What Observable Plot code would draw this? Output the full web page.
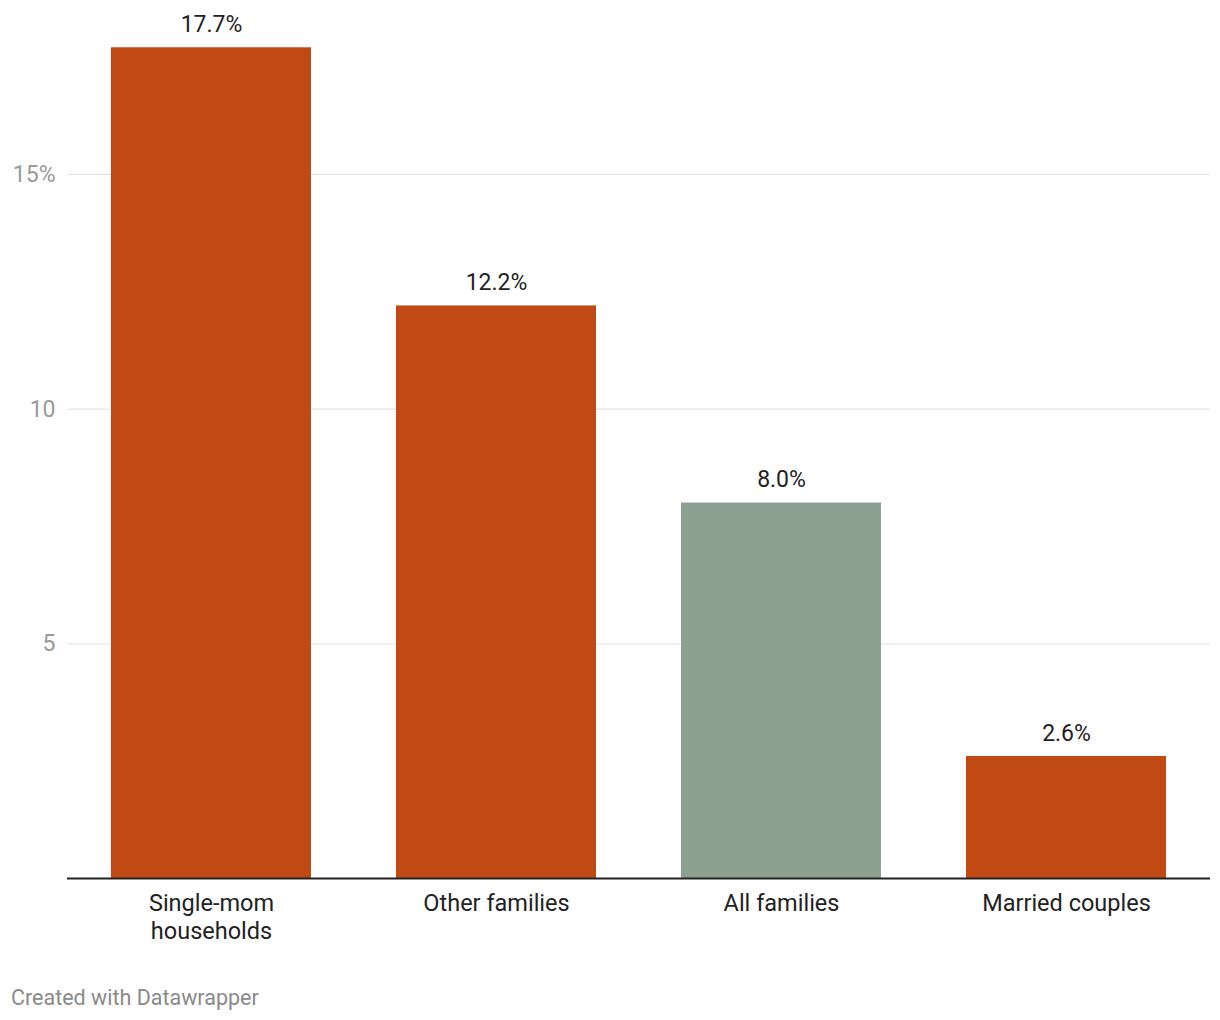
<!DOCTYPE html>
<html>
<head>
<meta charset="utf-8">
<script src="https://cdn.jsdelivr.net/npm/d3@7"></script>
<script src="https://cdn.jsdelivr.net/npm/@observablehq/plot@0.6"></script>
<style>
  body { margin: 0; background: #fff; font-family: Roboto, sans-serif; }
  #chart svg { display: block; }
  .caption { position: absolute; left: 11px; top: 985px; font-family: Roboto, sans-serif; font-size: 21.5px; color: #8a8a8a; }
</style>
</head>
<body>
<div id="chart"></div>
<div class="caption">Created with Datawrapper</div>
<script>
const categories = ["Single-mom\nhouseholds", "Other families", "All families", "Married couples"];
const values = [17.7, 12.2, 8.0, 2.6];
const highlight = [false, false, true, false];
const yTicks = [5, 10, 15];

const data = categories.map((c, i) => ({ category: c, value: values[i], hl: highlight[i] }));

const chart = Plot.plot({
  width: 1220,
  height: 975,
  marginLeft: 67,
  marginRight: 10,
  marginTop: 0,
  marginBottom: 97,
  style: { fontFamily: "Roboto, sans-serif", background: "#fff" },
  x: { domain: categories, paddingInner: 0.3, paddingOuter: 0.15, label: null },
  y: { domain: [0, 15], range: [878, 174], label: null },
  marks: [
    Plot.gridY(yTicks, { stroke: "#e0e0e0", strokeOpacity: 1, strokeWidth: 1 }),
    Plot.axisY(yTicks, {
      tickSize: 0, tickPadding: 12, fontSize: 23, color: "#9a9a9a",
      tickFormat: d => d === 15 ? "15%" : String(d), label: null
    }),
    Plot.barY(data, { x: "category", y: "value", fill: d => d.hl ? "#8ca190" : "#c14914" }),
    Plot.text(data, {
      x: "category", y: "value", text: d => d.value.toFixed(1) + "%",
      dy: -23, fontSize: 23, fill: "#222", lineAnchor: "middle"
    }),
    Plot.ruleY([0], { stroke: "#222", strokeWidth: 2 }),
    Plot.axisX({ tickSize: 0, tickPadding: 12, fontSize: 23.5, color: "#222", label: null, lineHeight: 1.2 })
  ]
});
document.getElementById("chart").appendChild(chart);
</script>
</body>
</html>
